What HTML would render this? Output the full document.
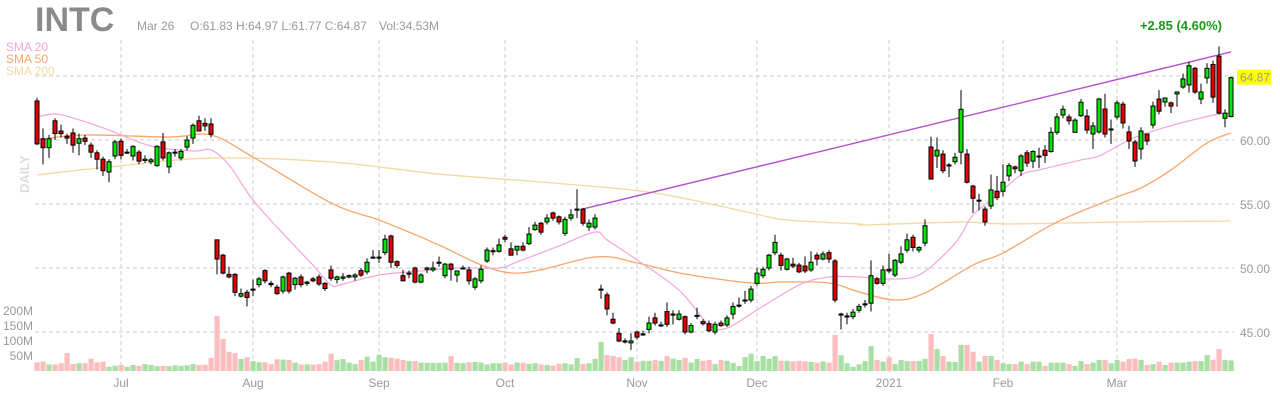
<!DOCTYPE html>
<html><head><meta charset="utf-8">
<style>
html,body{margin:0;padding:0;background:#fff;}
body{width:1280px;height:400px;overflow:hidden;font-family:"Liberation Sans",sans-serif;}
svg text{font-family:"Liberation Sans",sans-serif;}
</style></head>
<body>
<svg id="chart" width="1280" height="400" viewBox="0 0 1280 400" xmlns="http://www.w3.org/2000/svg">
<g id="grid"></g>
<g id="vol"></g>
<g id="smas"></g>
<g id="candles"></g>
<g id="axes"></g>
<text x="35" y="31" font-size="34" font-weight="bold" fill="#8a8a8a">INTC</text>
<text x="137" y="30" font-size="12" fill="#999">Mar 26</text>
<text x="190" y="30" font-size="12" fill="#999">O:61.83  H:64.97  L:61.77  C:64.87</text>
<text x="379" y="30" font-size="12" fill="#999">Vol:34.53M</text>
<text x="1222" y="30" font-size="13" font-weight="bold" fill="#1a9a1a" text-anchor="end">+2.85 (4.60%)</text>
<text x="6" y="51" font-size="12" fill="#f0a6dc">SMA 20</text>
<text x="6" y="63" font-size="12" fill="#f8a66c">SMA 50</text>
<text x="6" y="75" font-size="12" fill="#f3d9a2">SMA 200</text>
<text transform="translate(29,193) rotate(-90)" font-size="13" font-weight="bold" fill="#ddd">DAILY</text>
</svg>
<script>
const priceTicks=[65,60,55,50,45];
const priceTickLabels=["","60.00","55.00","50.00","45.00"];
const volTicks=[200,150,100,50];
const volTickLabels=["200M","150M","100M","50M"];
const monthIdx=[14,36,57,78,100,120,142,161,180];
const monthLabels=["Jul","Aug","Sep","Oct","Nov","Dec","2021","Feb","Mar"];
const candles=[
[63.05,63.3,59.6,59.7],[60.1,60.9,58.1,59.4],[59.4,60.4,58.6,60.1],[61.5,61.7,60.0,60.5],[60.7,61.2,60.2,60.5],
[60.3,60.5,59.7,60.15],[60.55,60.9,59.0,59.6],[59.75,60.5,58.8,60.1],[60.15,60.4,59.6,59.9],[59.6,59.8,58.6,59.05],
[59.0,59.2,57.7,58.5],[58.5,58.7,57.2,57.6],[57.5,58.5,56.7,58.3],[58.75,60.0,58.5,59.85],[59.9,60.1,58.5,58.8],
[59.05,59.3,58.9,59.05],[58.75,59.6,58.4,59.5],[59.05,59.2,58.1,58.35],[58.4,58.8,58.2,58.5],[58.3,58.6,58.1,58.45],
[58.0,59.6,57.9,59.5],[59.85,60.55,58.4,58.6],[57.9,59.1,57.4,59.0],[59.0,59.3,58.7,59.05],[58.6,59.3,58.4,59.1],
[59.45,60.3,59.2,60.0],[60.15,61.3,59.7,61.15],[61.5,61.9,61.0,60.7],[61.3,61.7,60.7,61.1],[61.25,61.7,60.2,60.45],
[52.2,52.2,49.5,50.7],[51.0,51.1,49.5,49.6],[49.5,50.1,49.2,49.3],[49.5,49.6,47.8,48.1],[47.8,48.4,47.7,48.0],
[48.1,48.3,47.0,47.7],[48.3,49.1,47.8,48.35],[48.7,49.3,48.5,49.15],[49.8,49.9,48.8,49.0],[48.8,49.0,48.5,48.7],
[48.5,48.7,47.9,48.0],[48.2,49.4,48.0,49.3],[49.6,49.7,48.0,48.2],[48.7,49.3,48.3,49.2],[49.3,49.5,48.5,48.7],
[48.8,49.0,48.6,48.9],[49.15,49.3,48.9,49.0],[49.3,49.5,48.6,48.75],[48.8,48.9,48.2,48.4],[49.85,50.2,49.0,49.2],
[49.1,49.4,48.8,49.3],[49.2,49.6,49.0,49.3],[49.3,49.5,49.2,49.4],[49.3,49.6,49.0,49.45],[49.8,50.0,49.3,49.45],
[49.7,50.75,49.5,50.45],[50.85,51.4,50.7,50.85],[50.85,51.4,50.4,50.85],[51.2,52.6,51.0,52.25],[52.5,52.6,50.0,50.45],
[50.5,50.6,50.0,50.2],[49.4,49.85,49.0,49.0],[49.6,49.8,49.2,49.6],[50.0,50.1,48.8,48.9],[48.9,49.6,48.8,49.45],
[49.9,50.1,49.6,50.0],[49.85,50.5,49.7,50.0],[50.45,50.9,50.1,50.45],[49.4,50.4,49.2,50.3],[50.3,50.4,49.0,49.9],
[49.45,49.8,48.9,49.77],[50.0,50.2,49.9,50.0],[49.85,50.1,48.7,49.0],[48.5,49.3,48.3,49.15],[49.0,50.2,48.8,49.9],
[50.55,51.6,50.4,51.4],[51.3,51.6,51.0,51.35],[51.3,52.3,51.2,51.8],[52.4,52.6,52.0,52.25],[51.5,52.0,51.0,51.0],
[51.4,51.6,51.0,51.7],[51.7,52.0,51.3,51.4],[51.9,53.2,51.8,52.65],[53.0,53.6,52.9,53.35],[53.5,53.6,52.6,52.8],
[53.6,54.2,53.4,53.9],[54.3,54.4,53.7,53.9],[54.0,54.1,53.4,53.6],[52.7,54.0,52.5,53.8],[53.9,54.6,53.7,54.15],
[54.6,56.15,53.9,54.6],[54.6,54.7,53.3,53.5],[53.2,53.8,52.9,53.5],[53.2,54.2,53.0,53.9],[48.35,48.7,47.6,48.35],
[47.9,48.1,46.3,46.8],[46.0,46.5,45.6,45.7],[44.9,45.3,44.2,44.3],[44.3,44.5,44.1,44.3],[44.15,44.9,43.6,44.3],
[45.0,45.1,44.4,44.6],[44.85,45.1,44.7,44.85],[45.2,46.2,44.9,45.7],[46.1,46.5,45.5,45.7],[45.55,45.8,45.4,45.55],
[46.6,47.3,45.4,45.6],[46.4,46.7,45.6,46.4],[46.0,46.7,45.9,46.4],[46.2,46.3,44.8,45.0],[45.0,45.7,44.9,45.5],
[46.3,46.9,46.0,46.3],[45.8,46.0,45.5,45.65],[45.65,45.9,45.0,45.1],[45.0,45.8,44.8,45.6],[45.7,45.9,45.4,45.5],
[45.55,46.3,45.4,46.1],[46.4,47.3,46.0,47.0],[47.1,47.7,46.9,47.1],[47.5,48.2,47.2,47.5],[47.5,48.6,47.3,48.35],
[48.8,50.0,48.6,49.6],[49.4,50.1,49.2,49.9],[50.0,51.1,49.8,51.0],[51.2,52.6,51.0,52.0],[51.0,51.2,49.8,50.2],
[49.9,50.8,49.8,50.7],[50.3,50.8,50.0,50.15],[50.23,50.4,49.6,49.7],[50.15,50.9,49.6,49.77],[49.85,51.3,49.7,50.45],
[51.0,51.2,50.2,50.7],[50.7,51.3,50.6,51.1],[51.2,51.4,50.4,50.7],[50.55,50.7,47.3,47.5],[46.4,46.5,45.2,46.4],
[46.25,46.5,45.6,46.25],[46.2,46.8,46.0,46.55],[46.7,47.2,46.5,47.0],[47.2,47.5,46.9,47.2],[47.25,50.6,46.6,49.4],
[49.15,49.3,48.7,48.8],[48.8,50.2,48.6,49.85],[49.9,51.1,49.6,49.77],[49.45,50.7,49.3,50.6],[50.45,51.7,50.3,51.1],
[51.4,52.7,51.2,52.2],[52.4,52.6,51.3,51.6],[51.4,51.7,51.2,51.6],[51.95,53.8,51.7,53.3],[59.45,60.25,56.9,56.95],
[58.75,60.2,57.8,59.2],[58.9,59.2,57.4,57.6],[58.05,58.2,57.1,58.05],[58.3,59.0,58.1,58.65],[59.05,63.9,58.1,62.4],
[58.9,59.3,56.6,56.7],[56.4,56.5,54.3,55.45],[55.3,55.8,54.5,55.3],[54.6,54.8,53.3,53.6],[54.85,57.3,54.6,56.1],
[56.0,57.2,55.3,55.5],[56.0,58.1,55.6,56.7],[57.2,58.2,56.8,58.0],[57.9,58.0,57.4,57.75],[57.6,58.9,57.2,58.75],
[59.0,59.2,57.9,58.2],[58.35,59.2,57.8,59.1],[58.75,59.4,57.8,58.75],[59.2,59.6,58.2,58.8],[59.1,61.0,59.0,60.6],
[60.6,62.1,60.4,61.8],[61.95,62.7,61.7,62.4],[61.8,62.0,61.2,61.5],[60.6,61.7,60.6,61.55],[61.9,63.2,61.8,62.95],
[61.87,62.4,60.5,60.78],[60.47,61.4,59.3,61.1],[60.63,63.3,60.5,63.2],[62.42,63.6,60.2,60.47],[60.86,61.6,59.7,60.86],
[61.8,63.1,61.6,62.9],[62.8,63.0,60.9,61.33],[60.63,61.1,59.3,59.92],[59.84,60.0,57.9,58.36],[59.3,61.0,58.5,60.7],
[60.47,60.5,59.6,59.92],[61.17,63.0,60.9,62.65],[63.2,63.9,62.0,62.25],[62.97,63.3,62.6,63.28],[62.9,63.0,62.1,62.65],
[63.6,63.8,62.6,63.75],[64.14,65.2,64.0,64.77],[64.3,66.1,63.7,65.8],[65.6,65.7,63.6,63.75],[63.2,64.4,62.8,63.75],
[64.85,66.0,64.4,65.6],[65.9,66.2,62.9,63.35],[66.55,67.3,62.0,62.1],[61.7,62.4,61.0,62.1],[61.83,64.97,61.77,64.87]
];
const volumes=[29,31,22,22,26,60,23,26,26,41,29,31,14,18,20,14,20,17,23,20,16,17,16,19,17,19,23,20,21,43,
183,107,64,60,40,46,33,29,29,23,39,38,37,28,22,22,21,23,31,58,36,40,28,23,37,48,31,54,46,44,41,37,33,33,28,27,
27,27,28,50,27,26,29,30,28,22,26,26,28,22,28,28,24,26,22,20,18,24,26,22,43,24,26,40,97,
53,50,46,37,46,31,34,34,37,34,50,41,37,44,28,40,34,37,23,37,34,27,17,46,58,33,50,41,50,34,34,32,34,32,30,28,32,28,120,53,26,14,22,
33,83,37,31,46,23,37,33,33,33,40,123,73,50,31,30,87,87,64,31,50,50,37,26,
23,23,31,23,31,31,17,28,28,28,23,17,33,23,28,37,37,26,37,31,40,41,37,20,23,31,20,28,28,28,31,33,33,53,37,73,37,35];
const sma20Idx=[0,3,6,12,19,26,29,32,36,42,46,49,51,57,64,70,77,80,87,93,95,100,107,112,115,120,127,132,137,142,147,152,154,156,160,164,167,174,177,182,185,190,194,197,199];
const sma20Val=[61.8,62.03,61.72,60.78,59.53,59.14,59.22,58.05,55.31,52.19,50.23,48.67,48.75,49.45,49.77,50,50,50.47,51.72,52.81,52.19,50.63,48.28,45.55,45.31,46.72,48.67,49.3,49.3,49.14,49.45,51.41,52.58,54.14,55.7,57.27,57.66,58.44,58.75,60,60.55,61.25,61.72,62.03,62.1];
const sma50Idx=[0,8,22,29,36,49,57,64,67,79,93,100,108,119,124,132,137,143,148,156,161,170,180,184,189,195,199];
const sma50Val=[60,60.39,60.23,60.39,58.67,55.08,53.75,52.42,51.8,49.61,50.86,50.39,49.53,48.83,48.91,48.83,48.13,47.5,48.05,50.23,51.17,53.59,55.55,56.25,57.66,59.77,60.55];
const sma200Idx=[0,12,29,49,67,86,103,119,125,137,138,154,162,180,199];
const sma200Val=[57.27,57.89,58.59,58.28,57.34,56.64,55.86,54.3,53.75,53.44,53.36,53.59,53.44,53.59,53.67];
const trendIdx=[91,199];
const trendVal=[54.61,66.88];
const lastPrice=64.87;

const NS="http://www.w3.org/2000/svg";
const X0=37, DX=6.0, LEFT=35, RIGHT=1234;
function xs(i){return X0+i*DX;}
function yp(p){return 140-(p-60)*12.8;}
function yv(v){return 371-v*0.3;}
function mk(tag,attrs,parent){const e=document.createElementNS(NS,tag);for(const k in attrs)e.setAttribute(k,attrs[k]);parent.appendChild(e);return e;}
const grid=document.getElementById('grid'),axes=document.getElementById('axes'),volG=document.getElementById('vol'),smaG=document.getElementById('smas'),cG=document.getElementById('candles');

priceTicks.forEach((p,k)=>{
  const l=mk('line',{x1:LEFT,x2:RIGHT,y1:yp(p),y2:yp(p),stroke:'#ccc','stroke-dasharray':'4,3'},grid);
  
  
  if(priceTickLabels[k]){const t=mk('text',{x:1240,y:yp(p)+5,'font-size':'12',fill:'#999'},axes);t.textContent=priceTickLabels[k];
  
  }
});
monthIdx.forEach((i,k)=>{
  const l=mk('line',{x1:xs(i),x2:xs(i),y1:40,y2:372,stroke:'#ccc','stroke-dasharray':'4,3'},grid);
  
  
  const t=mk('text',{x:xs(i),y:387,'font-size':'12',fill:'#999','text-anchor':'middle'},axes);t.textContent=monthLabels[k];
  
  
});
volTicks.forEach((v,k)=>{
  const t=mk('text',{x:33,y:yv(v)+4,'font-size':'12',fill:'#999','text-anchor':'end'},axes);t.textContent=volTickLabels[k];
  
  
});
volumes.forEach((v,i)=>{
  if(i>=candles.length)return;
  const up=candles[i][3]>=candles[i][0];
  const r=mk('rect',{x:xs(i)-2.5,y:yv(v),width:5.2,height:371-yv(v),fill:up?'#a9dea4':'#fbbdbd'},volG);
  
  
});
function smooth(idx,val){
  const P=idx.map((i,k)=>[xs(i),yp(val[k])]);
  let d='M'+P[0][0]+','+P[0][1];
  for(let k=0;k<P.length-1;k++){
    const p0=P[k-1]||P[k],p1=P[k],p2=P[k+1],p3=P[k+2]||P[k+1];
    const c1=[p1[0]+(p2[0]-p0[0])/6,p1[1]+(p2[1]-p0[1])/6];
    const c2=[p2[0]-(p3[0]-p1[0])/6,p2[1]-(p3[1]-p1[1])/6];
    d+=' C'+c1[0]+','+c1[1]+' '+c2[0]+','+c2[1]+' '+p2[0]+','+p2[1];
  }
  return d;
}
function line(idx,val,color,w,name,curve){
  const d=curve?smooth(idx,val):'M'+idx.map((i,k)=>xs(i)+','+yp(val[k])).join(' L');
  const pl=mk('path',{d:d,fill:'none',stroke:color,'stroke-width':w},smaG);
  
  
}
line(sma200Idx,sma200Val,'#f3d9a2',1.3,'sma200-line',true);
line(sma50Idx,sma50Val,'#f8a66c',1.3,'sma50-line',true);
line(sma20Idx,sma20Val,'#f0a6dc',1.2,'sma20-line',true);
line(trendIdx,trendVal,'#b94fd0',1.4,'trendline',false);
candles.forEach((c,i)=>{
  const [o,h,l,cl]=c;const x=xs(i);
  const w=mk('line',{x1:x,x2:x,y1:yp(h),y2:yp(l),stroke:'#000','stroke-width':1},cG);
  
  
  const top=yp(Math.max(o,cl)),bot=yp(Math.min(o,cl));
  const b=mk('rect',{x:x-2,y:top,width:4,height:Math.max(bot-top,1),fill:cl>=o?'#00e600':'#e60000',stroke:'#000','stroke-width':1},cG);
  
  
});
const lb=mk('rect',{x:1237,y:yp(lastPrice)-8,width:34,height:15,fill:'#ffff00'},axes);


const lt=mk('text',{x:1240,y:yp(lastPrice)+4,'font-size':'12',fill:'#999'},axes);lt.textContent=lastPrice.toFixed(2);


</script>
</body></html>
